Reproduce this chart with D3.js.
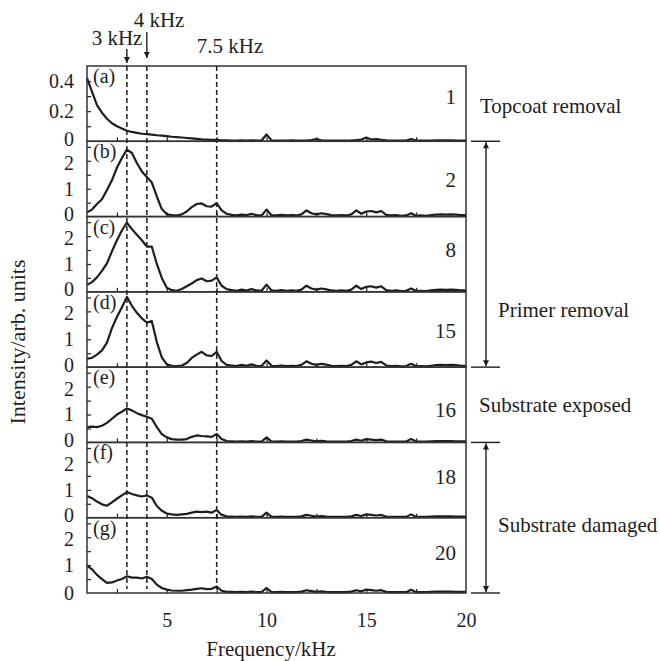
<!DOCTYPE html>
<html>
<head>
<meta charset="utf-8">
<script src="https://cdn.jsdelivr.net/npm/d3@7/dist/d3.min.js"></script>
<style>
  body { margin: 0; background: #fff; }
  svg { display: block; }
  text { font-family: "Liberation Serif", "Times New Roman", serif; fill: #1e1e1e; }
</style>
</head>
<body>
<svg id="chart" width="660" height="661"></svg>
<script>
// Frequency grid (kHz) shared by every spectrum
const freqKHz = [
  1.00, 1.25, 1.50, 1.75, 2.00, 2.25, 2.50, 2.75, 3.00, 3.25, 3.50, 3.75,
  4.00, 4.25, 4.50, 4.75, 5.00, 5.25, 5.50, 5.75, 6.00, 6.25, 6.50, 6.75,
  7.00, 7.25, 7.50, 7.75, 8.00, 8.25, 8.50, 8.75, 9.00, 9.25, 9.50, 9.75,
  10.00, 10.25, 10.50, 10.75, 11.00, 11.25, 11.50, 11.75, 12.00, 12.25, 12.50, 12.75,
  13.00, 13.25, 13.50, 13.75, 14.00, 14.25, 14.50, 14.75, 15.00, 15.25, 15.50, 15.75,
  16.00, 16.25, 16.50, 16.75, 17.00, 17.25, 17.50, 17.75, 18.00, 18.25, 18.50, 18.75,
  19.00, 19.25, 19.50, 19.75, 20.00
];

// Spectral intensity (arb. units) after each laser pass
const spectrumA = [
  0.420, 0.330, 0.240, 0.190, 0.150, 0.120, 0.100, 0.085, 0.070, 0.062, 0.056, 0.050,
  0.047, 0.044, 0.040, 0.037, 0.034, 0.030, 0.028, 0.025, 0.022, 0.019, 0.016, 0.013,
  0.011, 0.009, 0.010, 0.007, 0.006, 0.005, 0.005, 0.006, 0.005, 0.006, 0.005, 0.005,
  0.045, 0.006, 0.005, 0.005, 0.005, 0.006, 0.005, 0.005, 0.006, 0.008, 0.015, 0.006,
  0.005, 0.005, 0.005, 0.005, 0.005, 0.006, 0.008, 0.012, 0.025, 0.012, 0.014, 0.010,
  0.006, 0.005, 0.005, 0.005, 0.005, 0.015, 0.005, 0.005, 0.005, 0.005, 0.006, 0.007,
  0.006, 0.006, 0.005, 0.005, 0.005
];
const spectrumB = [
  0.15, 0.25, 0.45, 0.62, 0.95, 1.30, 1.75, 2.10, 2.40, 2.28, 1.92, 1.62,
  1.42, 1.22, 0.72, 0.27, 0.08, 0.05, 0.04, 0.08, 0.18, 0.34, 0.45, 0.47,
  0.37, 0.36, 0.48, 0.22, 0.10, 0.06, 0.04, 0.07, 0.05, 0.10, 0.05, 0.04,
  0.25, 0.05, 0.04, 0.06, 0.04, 0.05, 0.04, 0.08, 0.22, 0.12, 0.08, 0.12,
  0.09, 0.05, 0.04, 0.05, 0.04, 0.08, 0.22, 0.10, 0.18, 0.20, 0.15, 0.20,
  0.06, 0.04, 0.05, 0.03, 0.04, 0.12, 0.03, 0.04, 0.03, 0.05, 0.07, 0.08,
  0.07, 0.08, 0.07, 0.05, 0.05
];
const spectrumC = [
  0.25, 0.35, 0.52, 0.75, 1.02, 1.45, 1.85, 2.20, 2.48, 2.25, 2.05, 1.85,
  1.62, 1.62, 1.00, 0.50, 0.15, 0.06, 0.04, 0.10, 0.20, 0.30, 0.42, 0.48,
  0.38, 0.40, 0.52, 0.22, 0.10, 0.06, 0.04, 0.08, 0.05, 0.10, 0.05, 0.04,
  0.26, 0.05, 0.04, 0.06, 0.04, 0.05, 0.04, 0.08, 0.22, 0.12, 0.08, 0.12,
  0.09, 0.05, 0.04, 0.05, 0.04, 0.08, 0.22, 0.10, 0.18, 0.20, 0.15, 0.20,
  0.06, 0.04, 0.05, 0.03, 0.04, 0.12, 0.03, 0.04, 0.03, 0.05, 0.07, 0.08,
  0.07, 0.08, 0.07, 0.05, 0.05
];
const spectrumD = [
  0.30, 0.33, 0.45, 0.60, 0.88, 1.40, 1.80, 2.15, 2.52, 2.20, 1.95, 1.75,
  1.60, 1.65, 0.90, 0.35, 0.10, 0.05, 0.04, 0.06, 0.15, 0.33, 0.45, 0.55,
  0.42, 0.40, 0.55, 0.22, 0.08, 0.06, 0.04, 0.08, 0.05, 0.10, 0.05, 0.04,
  0.24, 0.05, 0.04, 0.06, 0.04, 0.05, 0.04, 0.08, 0.21, 0.12, 0.08, 0.12,
  0.09, 0.05, 0.04, 0.05, 0.04, 0.08, 0.21, 0.10, 0.17, 0.20, 0.15, 0.19,
  0.06, 0.04, 0.05, 0.03, 0.04, 0.12, 0.03, 0.04, 0.03, 0.05, 0.07, 0.08,
  0.07, 0.08, 0.07, 0.05, 0.05
];
const spectrumE = [
  0.55, 0.57, 0.55, 0.60, 0.70, 0.85, 1.00, 1.10, 1.22, 1.15, 1.05, 0.98,
  0.92, 0.85, 0.55, 0.30, 0.18, 0.12, 0.10, 0.10, 0.12, 0.20, 0.25, 0.23,
  0.22, 0.20, 0.30, 0.12, 0.05, 0.04, 0.03, 0.04, 0.03, 0.05, 0.03, 0.03,
  0.18, 0.03, 0.03, 0.04, 0.03, 0.03, 0.03, 0.05, 0.10, 0.07, 0.04, 0.06,
  0.04, 0.03, 0.03, 0.03, 0.03, 0.05, 0.10, 0.06, 0.12, 0.10, 0.08, 0.10,
  0.04, 0.03, 0.03, 0.03, 0.03, 0.12, 0.03, 0.03, 0.03, 0.04, 0.05, 0.05,
  0.05, 0.05, 0.04, 0.04, 0.04
];
const spectrumF = [
  0.78, 0.70, 0.58, 0.48, 0.43, 0.55, 0.68, 0.80, 0.92, 0.85, 0.80, 0.76,
  0.80, 0.72, 0.42, 0.25, 0.15, 0.12, 0.10, 0.12, 0.14, 0.18, 0.22, 0.20,
  0.22, 0.18, 0.28, 0.10, 0.05, 0.04, 0.03, 0.04, 0.03, 0.05, 0.03, 0.03,
  0.18, 0.03, 0.03, 0.04, 0.03, 0.03, 0.03, 0.05, 0.10, 0.07, 0.04, 0.06,
  0.04, 0.03, 0.03, 0.03, 0.03, 0.05, 0.10, 0.06, 0.12, 0.10, 0.08, 0.10,
  0.04, 0.03, 0.03, 0.03, 0.03, 0.12, 0.03, 0.03, 0.03, 0.04, 0.05, 0.05,
  0.05, 0.05, 0.04, 0.04, 0.04
];
const spectrumG = [
  0.98, 0.85, 0.65, 0.50, 0.36, 0.38, 0.45, 0.50, 0.60, 0.55, 0.55, 0.52,
  0.58, 0.50, 0.30, 0.18, 0.12, 0.09, 0.08, 0.08, 0.10, 0.12, 0.15, 0.17,
  0.14, 0.15, 0.23, 0.08, 0.04, 0.04, 0.03, 0.04, 0.03, 0.05, 0.03, 0.03,
  0.18, 0.03, 0.03, 0.04, 0.03, 0.03, 0.03, 0.05, 0.10, 0.07, 0.04, 0.06,
  0.04, 0.03, 0.03, 0.03, 0.03, 0.05, 0.10, 0.06, 0.12, 0.10, 0.08, 0.10,
  0.04, 0.03, 0.03, 0.03, 0.03, 0.12, 0.03, 0.03, 0.03, 0.04, 0.05, 0.05,
  0.05, 0.05, 0.04, 0.04, 0.04
];

const panelTags = ["(a)", "(b)", "(c)", "(d)", "(e)", "(f)", "(g)"];
const passNumbers = ["1", "2", "8", "15", "16", "18", "20"];
const panelYMax = [0.5, 2.7, 2.7, 2.7, 2.7, 2.7, 2.7];
const yTickLabelsA = [0, 0.2, 0.4];
const yTickLabelsRest = [0, 1, 2];
const yMinorA = [0.1, 0.2, 0.3, 0.4];
const yMinorRest = [0.5, 1, 1.5, 2, 2.5];
const xTickLabels = [5, 10, 15, 20];
const xMinor = [2.5, 5, 7.5, 10, 12.5, 15, 17.5];
const markerFreqs = [3, 4, 7.5];
const markerLabels = ["3 kHz", "4 kHz", "7.5 kHz"];
// Stages: first and last panel index covered
const stageNames = ["Topcoat removal", "Primer removal", "Substrate exposed", "Substrate damaged"];
const stageFirst = [0, 1, 4, 5];
const stageLast = [0, 3, 4, 6];

const spectra = [spectrumA, spectrumB, spectrumC, spectrumD, spectrumE, spectrumF, spectrumG];

// ---- layout ----
const plotLeft = 87, plotRight = 466, plotTop = 66, plotBottom = 593;
const ink = "#1e1e1e";
const tickFont = 20;
const labelFont = 21;
const svg = d3.select("#chart");

const defs = svg.append("defs");
defs.append("marker")
  .attr("id", "arrowHead")
  .attr("viewBox", "0 0 10 10")
  .attr("refX", 10).attr("refY", 5)
  .attr("markerUnits", "userSpaceOnUse")
  .attr("markerWidth", 8).attr("markerHeight", 6)
  .attr("orient", "auto-start-reverse")
  .append("path").attr("d", "M0,0 L10,5 L0,10 Z").attr("fill", ink);

const x = d3.scaleLinear().domain([1, 20]).range([plotLeft, plotRight]);
const band = d3.scaleBand().domain(d3.range(spectra.length)).range([plotTop, plotBottom]).padding(0);

const labelDy = [38, 46, 40, 46, 50, 42, 42];

spectra.forEach((values, i) => {
  const y0 = band(i), y1 = band(i) + band.bandwidth();
  const y = d3.scaleLinear().domain([0, panelYMax[i]]).range([y1, y0]);
  const g = svg.append("g");

  // minor y ticks (inward)
  g.append("g")
    .attr("transform", `translate(${plotLeft},0)`)
    .call(d3.axisLeft(y).tickValues(i === 0 ? yMinorA : yMinorRest).tickSize(-4).tickFormat(""))
    .call(s => s.select(".domain").remove())
    .call(s => s.selectAll("line").attr("stroke", ink).attr("stroke-width", 1.2));

  // y tick labels; the zero sits a little high and the top label a little low
  // so that neighbouring panels' labels stay apart
  g.append("g")
    .attr("transform", `translate(${plotLeft},0)`)
    .call(d3.axisLeft(y).tickValues(i === 0 ? yTickLabelsA : yTickLabelsRest).tickSize(0).tickPadding(13)
      .tickFormat(d => (i === 0 && d !== 0) ? d3.format(".1f")(d) : d3.format("d")(d)))
    .call(s => s.select(".domain").remove())
    .call(s => s.selectAll("text")
      .attr("font-family", "Liberation Serif, Times New Roman, serif")
      .attr("font-size", tickFont).attr("fill", ink)
      .attr("dy", d => d === 0 && i < spectra.length - 1 ? "0.2em" : (d === 2 ? "0.42em" : "0.32em")));

  // minor x ticks at panel bottom (inward)
  g.append("g")
    .attr("transform", `translate(0,${y1})`)
    .call(d3.axisBottom(x).tickValues(xMinor).tickSize(-4).tickFormat(""))
    .call(s => s.select(".domain").remove())
    .call(s => s.selectAll("line").attr("stroke", ink).attr("stroke-width", 1.2));

  // spectrum curve
  const line = d3.line().x((d, k) => x(freqKHz[k])).y(d => y(d)).curve(d3.curveLinear);
  g.append("path")
    .datum(values)
    .attr("d", line)
    .attr("fill", "none")
    .attr("stroke", ink)
    .attr("stroke-width", 2.2)
    .attr("stroke-linejoin", "round");

  // panel frame
  g.append("rect")
    .attr("x", plotLeft).attr("y", y0)
    .attr("width", plotRight - plotLeft).attr("height", y1 - y0)
    .attr("fill", "none").attr("stroke", "#333").attr("stroke-width", 1.5);

  // panel tag
  g.append("text")
    .attr("x", plotLeft + 6).attr("y", y0 + 17)
    .attr("font-size", tickFont)
    .text(panelTags[i]);

  // pass number
  g.append("text")
    .attr("x", 456).attr("y", y0 + labelDy[i])
    .attr("text-anchor", "end")
    .attr("font-size", labelFont)
    .text(passNumbers[i]);
});

// dashed marker lines
svg.append("g").selectAll("line")
  .data(markerFreqs)
  .join("line")
  .attr("x1", d => x(d)).attr("x2", d => x(d))
  .attr("y1", plotTop).attr("y2", plotBottom - 4)
  .attr("stroke", ink).attr("stroke-width", 1.5)
  .attr("stroke-dasharray", "5,3");

// arrows above the 3 kHz and 4 kHz markers
const arrowTopY = [49, 32];
const arrowTipY = [63, 58];
[0, 1].forEach(k => {
  svg.append("line")
    .attr("x1", x(markerFreqs[k])).attr("x2", x(markerFreqs[k]))
    .attr("y1", arrowTopY[k]).attr("y2", arrowTipY[k])
    .attr("stroke", ink).attr("stroke-width", 1.4)
    .attr("marker-end", "url(#arrowHead)");
});

// marker labels
const markerLabelX = [117, 159, 230];
const markerLabelY = [45, 27, 53];
markerLabels.forEach((t, k) => {
  svg.append("text")
    .attr("x", markerLabelX[k]).attr("y", markerLabelY[k])
    .attr("text-anchor", "middle")
    .attr("font-size", labelFont)
    .text(t);
});

// bottom axis labels
svg.append("g")
  .attr("transform", `translate(0,${plotBottom})`)
  .call(d3.axisBottom(x).tickValues(xTickLabels).tickSize(0).tickPadding(20))
  .call(s => s.select(".domain").remove())
  .call(s => s.selectAll("text")
    .attr("font-family", "Liberation Serif, Times New Roman, serif")
    .attr("font-size", tickFont).attr("fill", ink));

svg.append("text")
  .attr("x", 271).attr("y", 656)
  .attr("text-anchor", "middle")
  .attr("font-size", labelFont)
  .text("Frequency/kHz");

svg.append("text")
  .attr("transform", "translate(25,342) rotate(-90)")
  .attr("text-anchor", "middle")
  .attr("font-size", 22)
  .text("Intensity/arb. units");

// stage annotations on the right
const barX1 = 471, barX2 = 500, arrowX = 486;
const stageTextX = [480, 498, 479, 498];
const stageTextY = [113, 317, 412, 532];
stageNames.forEach((name, k) => {
  const a = band(stageFirst[k]);
  const b = band(stageLast[k]) + band.bandwidth();
  if (stageLast[k] > stageFirst[k]) {
    [a, b].forEach(yy => svg.append("line")
      .attr("x1", barX1).attr("x2", barX2).attr("y1", yy).attr("y2", yy)
      .attr("stroke", ink).attr("stroke-width", 1.4));
    svg.append("line")
      .attr("x1", arrowX).attr("x2", arrowX).attr("y1", a + 1).attr("y2", b - 1)
      .attr("stroke", ink).attr("stroke-width", 1.4)
      .attr("marker-start", "url(#arrowHead)")
      .attr("marker-end", "url(#arrowHead)");
  }
  svg.append("text")
    .attr("x", stageTextX[k]).attr("y", stageTextY[k])
    .attr("font-size", labelFont)
    .text(name);
});
</script>
</body>
</html>
